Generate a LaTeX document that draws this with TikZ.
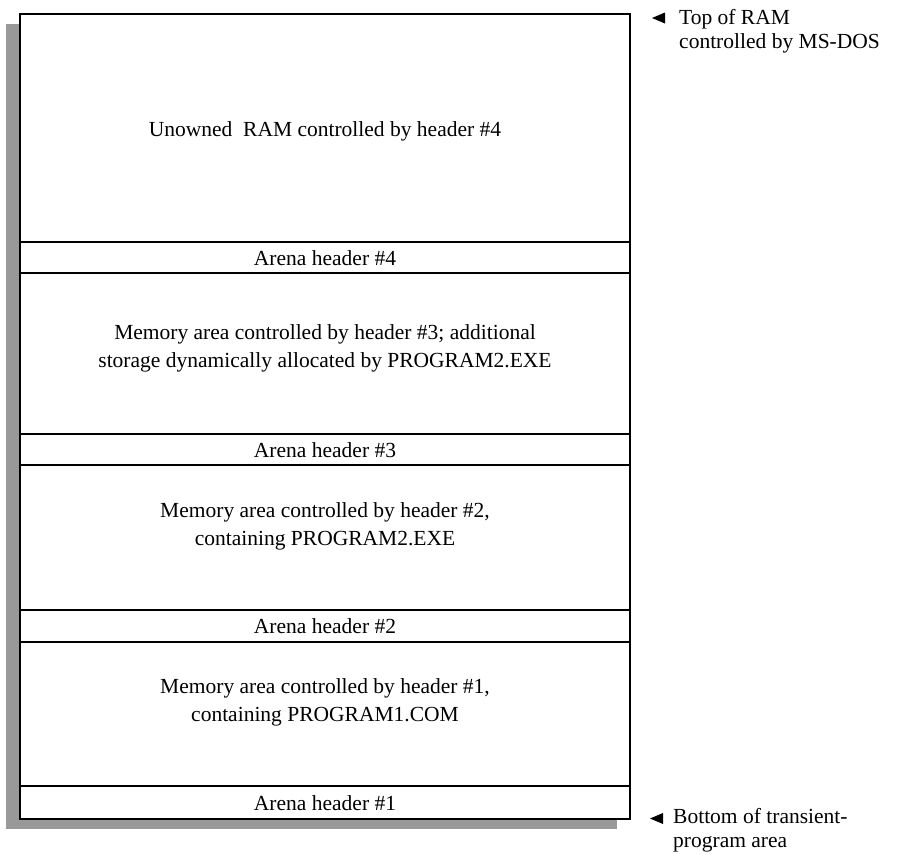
\documentclass[tikz,border=0pt]{standalone}
\usepackage{fontspec}
\setmainfont{Liberation Serif}
\begin{document}
\begin{tikzpicture}[x=1pt,y=-1pt,
  rule/.style={line width=1.8pt},
  body/.style={font=\fontsize{21.5}{28}\selectfont, align=center, inner sep=0pt},
  side/.style={font=\fontsize{21.5}{23.5}\selectfont, align=left, inner sep=0pt, anchor=base west},
  pointer/.style={fill=black}]
\useasboundingbox (0,0) rectangle (914,855);

% drop shadow and outer frame
\fill[black!40] (6,24) rectangle (617,829);
\draw[rule, fill=white] (20,14) rectangle (630,819);

% dividing rules between the arenas
\foreach \y in {242,273,434,465,610,642,786}
  \draw[rule] (20,\y) -- (630,\y);

% block labels
\node[body] (free)  at (325,131) {Unowned\ \ RAM controlled by header \#4};
\node[body] (hdr4)  at (325,258) {Arena header \#4};
\node[body] (area3) at (325,348) {Memory area controlled by header \#3; additional\\storage dynamically allocated by PROGRAM2.EXE};
\node[body] (hdr3)  at (325,450) {Arena header \#3};
\node[body] (area2) at (325,526) {Memory area controlled by header \#2,\\containing PROGRAM2.EXE};
\node[body] (hdr2)  at (325,626) {Arena header \#2};
\node[body] (area1) at (325,702) {Memory area controlled by header \#1,\\containing PROGRAM1.COM};
\node[body] (hdr1)  at (325,803) {Arena header \#1};

% side annotations with pointers (anchored at the last line's baseline)
\node[side] (top) at (679,48) {Top of RAM\\controlled by MS-DOS};
\coordinate (toptip) at (652,18);
\fill[pointer] (toptip) -- ++(13,-5.5) -- ++(0,11) -- cycle;

\node[side] (bottom) at (673,847) {Bottom of transient-\\program area};
\coordinate (bottip) at (650,818.5);
\fill[pointer] (bottip) -- ++(13,-5.5) -- ++(0,11) -- cycle;
\end{tikzpicture}
\end{document}
